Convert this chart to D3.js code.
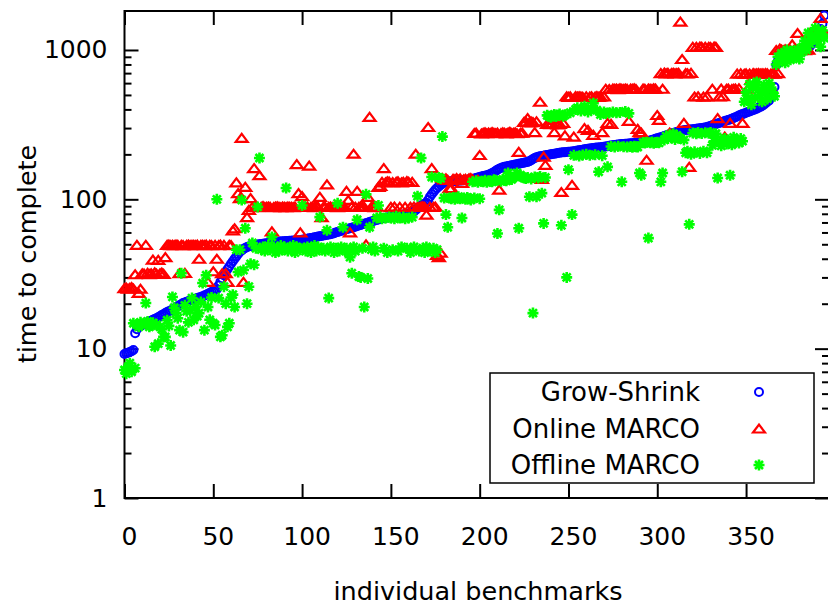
<!DOCTYPE html>
<html>
<head>
<meta charset="utf-8">
<script src="https://cdn.jsdelivr.net/npm/d3@7"></script>
<style>
  body { margin: 0; background: #fff; }
  svg { display: block; font-family: "DejaVu Sans", Verdana, sans-serif; }
</style>
</head>
<body>
<svg width="828" height="607"></svg>
<script>
// one value per benchmark, sorted by the Grow-Shrink time
const growShrink = [
  9.2, 9.3, 9.4, 9.5, 9.6, 9.8, 12.7, 13.5, 14.0, 14.2,
  14.4, 14.6, 14.8, 15.0, 15.2, 15.4, 15.6, 15.8, 16.0, 16.2,
  16.5, 16.8, 17.0, 17.3, 17.6, 17.8, 18.0, 18.3, 18.6, 18.9,
  19.2, 19.5, 19.8, 20.2, 20.4, 20.6, 20.8, 21.0, 21.2, 21.4,
  21.6, 21.8, 22.0, 22.2, 22.4, 22.7, 23.0, 23.3, 23.6, 24.0,
  24.3, 24.6, 25.0, 26.5, 28, 29.5, 31, 32.5, 34, 35.5,
  37, 38.5, 40, 41.5, 43, 44.5, 45.5, 46.5, 47.3, 48,
  48.3, 48.6, 48.9, 49.2, 49.5, 49.8, 50.0, 50.2, 50.4, 50.6,
  50.8, 51.0, 51.2, 51.4, 51.6, 51.8, 52.0, 52.1, 52.2, 52.3,
  52.4, 52.5, 52.6, 52.7, 52.8, 52.9, 53.0, 53.1, 53.2, 53.3,
  53.6, 53.9, 54.2, 54.5, 54.8, 55.1, 55.4, 55.7, 56.0, 56.3,
  56.6, 56.9, 57.2, 57.5, 57.8, 58.1, 58.4, 58.8, 59.3, 60,
  60.5, 61, 61.5, 62, 62.5, 63, 63.5, 64, 64.5, 65,
  65.6, 66.2, 66.8, 67.4, 68, 68.6, 69.2, 69.8, 70.4, 71,
  71.6, 72.2, 72.8, 73.4, 74, 74.6, 75, 75.3, 75.6, 75.9,
  76.2, 76.6, 77, 77.4, 77.8, 78.2, 78.6, 79, 79.5, 80,
  80.5, 81, 81.5, 83, 85, 87, 89, 91, 92.5, 93.5,
  95, 99, 104, 108, 112, 116, 119, 122, 125, 127,
  129, 130, 131, 131.5, 132, 132.3, 132.6, 132.9, 133.2, 133.5,
  133.8, 134, 134.5, 135, 135.5, 136, 137, 138, 139, 140,
  141, 142, 143, 144, 145, 146, 148, 150, 152, 155,
  158, 160, 162, 164, 165, 166, 167, 168, 169, 170,
  171, 172, 173, 174, 175, 176, 177, 178, 180, 183,
  186, 189, 191, 193, 194, 195, 196, 197, 198, 199,
  200, 201, 202, 203, 204, 205, 206, 206.5, 207, 207.5,
  208, 208.5, 209, 210, 211, 212, 213, 214, 215, 216,
  217, 218, 219, 220, 221, 221.5, 222, 222.5, 223, 224,
  225, 226, 227, 228, 229, 230, 231, 232, 233, 234,
  234.5, 235, 235.5, 236, 236.5, 237, 237.5, 238, 238.5, 239,
  240, 241, 242, 243, 244, 246, 248, 250, 252, 254,
  256, 258, 260, 262, 265, 268, 271, 273, 275, 278,
  280, 282, 284, 286, 288, 290, 291, 292, 293, 294,
  295, 296, 297, 298, 299, 300, 301, 303, 305, 307,
  310, 313, 316, 319, 322, 325, 328, 331, 334, 337,
  340, 343, 347, 351, 355, 359, 364, 368, 372, 376,
  380, 384, 388, 392, 396, 400, 405, 410, 416, 422,
  430, 440, 450, 460, 480, 490, 565, 795, 850, 870,
  890, 900, 910, 920, 930, 940, 950, 960, 970, 980,
  985, 990, 995, 1000, 1010, 1030, 1060, 1100, 1150, 1200,
  1250, 1310, 1380, 1500, 1700
];

const onlineMarco = [
  25.4, 25.6, 25.2, 25.5, 25.8, 25.3, 31.5, 49.5, 23.6, 25.2,
  32, 31.8, 49.5, 32.2, 31.6, 32, 39.5, 32.4, 31.8, 39.3,
  32, 32.3, 31.7, 41, 49.5, 49.8, 49.3, 49.6, 49.4, 49.7,
  49.5, 32, 49.6, 49.3, 32.2, 49.5, 49.8, 49.4, 49.6, 49.5,
  49.3, 49.7, 40, 49.5, 49.6, 49.4, 49.8, 28, 49.5, 49.3,
  33, 49.6, 40, 49.4, 49.7, 32, 49.5, 32, 28, 49.6,
  49.3, 62, 64, 130, 110, 102, 258, 28, 121, 76,
  85, 102, 89, 162, 89.5, 88.5, 145, 89, 90, 88.8,
  89.2, 89.5, 89, 61, 88.6, 89.3, 89.8, 89, 88.5, 89.4,
  89, 88.7, 89.5, 89.2, 89, 88.6, 89.4, 172, 110, 60,
  105, 89.3, 88.8, 89.5, 168, 89, 89.2, 88.7, 89.6, 89.1,
  104, 76, 89, 88.9, 126, 89.2, 89.5, 88.8, 89, 89.3,
  88.6, 89.4, 89, 89.2, 88.8, 114, 99, 60, 89.5, 202,
  89, 114, 89.2, 88.9, 89.4, 89, 50, 104, 357, 89.2,
  89, 88.7, 89.5, 121, 123, 131, 162, 130, 132, 131.5,
  89, 130.5, 89.4, 131, 132, 89, 130, 131.2, 89.2, 132.5,
  131, 89, 130.8, 89.5, 202, 89, 88.8, 89.3, 89.6, 89,
  79, 305, 89.2, 162, 89, 89.5, 42.5, 41, 44, 139,
  136, 138, 135, 119, 119, 137, 136, 139, 135, 138,
  129, 136, 137, 135, 138, 139, 136, 278, 280, 135,
  198, 276, 279, 281, 277, 280, 278, 282, 279, 277,
  280, 116, 278, 281, 279, 276, 280, 283, 278, 279,
  281, 277, 208, 279, 280, 330, 332, 350, 328, 331,
  329, 282, 333, 139, 450, 137, 193, 170, 320, 322,
  319, 323, 282, 321, 318, 320, 112, 325, 268, 490,
  486, 489, 125, 263, 491, 487, 490, 488, 485, 300,
  489, 292, 487, 490, 270, 488, 491, 486, 489, 282,
  488, 550, 325, 548, 320, 552, 549, 551, 547, 553,
  550, 548, 552, 549, 335, 551, 550, 553, 548, 296,
  282, 280, 551, 549, 184, 552, 550, 548, 553, 551,
  367, 340, 700, 550, 705, 698, 702, 280, 699, 704,
  697, 701, 703, 1550, 870, 325, 700, 698, 165, 702,
  1050, 488, 1048, 490, 1052, 1049, 487, 1051, 489, 1050,
  1047, 550, 1052, 1049, 350, 488, 552, 490, 263, 549,
  551, 325, 548, 550, 552, 695, 553, 697, 325, 693,
  698, 550, 696, 630, 699, 694, 697, 700, 696, 698,
  695, 699, 697, 570, 696, 698, 694, 1000, 700, 1020,
  1005, 995, 1010, 1000, 1008, 998, 1090, 1002, 1006, 1300,
  1010, 1000, 1004, 998, 1012, 1005, 1300, 1250, 1230, 1280,
  1350, 1260, 1640, 1300, 1320
];

const offlineMarco = [
  7.2, 6.8, 7.5, 8.0, 7.0, 14.8, 7.4, 14.5, 14.0, 15.0,
  14.6, 14.8, 20.2, 15.2, 14.0, 14.3, 14.9, 10.3, 14.5, 10.8,
  14.0, 13.5, 12.0, 12.0, 15.5, 14.2, 10.5, 22.2, 18.8, 17.3,
  16.0, 13.3, 32.0, 12.9, 19.5, 17.8, 15.0, 18.0, 21.8, 15.6,
  19.0, 16.5, 17.3, 20.5, 27.5, 13.3, 31.0, 19.0, 15.6, 22.0,
  14.8, 14.4, 100, 21.8, 12.0, 12.3, 26.0, 20.0, 14.0, 14.8,
  22.0, 23.0, 19.0, 46.0, 32.6, 46.0, 99, 33.6, 64, 20.0,
  26.0, 37.0, 51.0, 36.5, 47.0, 89, 189, 46, 48, 45,
  47, 49, 46, 56, 48, 44, 47, 45, 49, 46,
  48, 119, 45, 47, 46, 49, 44, 48, 47, 46,
  91, 47, 45, 48, 46, 44, 47, 49, 45, 48,
  76, 46, 47, 45, 62, 21.8, 48, 46, 44, 47,
  94, 45, 48, 65, 46, 47, 44, 41, 32, 48,
  45, 73, 30.4, 30, 47, 19, 108, 29.5, 65, 46,
  48, 45, 75, 91, 76, 74, 47, 75, 44, 76,
  75, 46, 74, 77, 45, 75, 48, 76, 74, 47,
  75, 44, 76, 48, 46, 105, 45, 189, 47, 44,
  48, 46, 45, 141, 47, 44, 46, 140, 138, 263,
  102, 79, 65, 102, 101, 103, 100, 102, 104, 101,
  75, 102, 100, 103, 101, 99, 131, 102, 133, 130,
  101, 132, 131, 134, 130, 133, 132, 131, 135, 134,
  59, 85, 132, 136, 134, 133, 150, 137, 136, 140,
  142, 150, 64, 145, 141, 139, 138, 140, 104, 137,
  17.3, 141, 104, 139, 142, 110, 69, 140, 365, 360,
  355, 362, 370, 358, 365, 372, 67, 360, 368, 30,
  158, 380, 79, 197, 400, 410, 195, 390, 198, 420,
  200, 385, 197, 405, 440, 199, 395, 153, 370, 196,
  385, 375, 165, 378, 226, 385, 224, 380, 227, 382,
  131, 225, 388, 224, 376, 226, 223, 227, 225, 224,
  150, 145, 240, 238, 241, 55, 239, 242, 237, 240,
  241, 239, 131, 150, 250, 265, 255, 270, 258, 275,
  252, 268, 260, 255, 153, 250, 205, 210, 68, 200,
  278, 208, 275, 280, 203, 276, 210, 279, 205, 277,
  280, 230, 245, 275, 139, 240, 228, 250, 255, 235,
  248, 145, 232, 260, 240, 250, 238, 255, 245, 450,
  520, 470, 590, 430, 560, 480, 610, 540, 500, 450,
  580, 530, 470, 600, 560, 520, 490, 800, 900, 850,
  950, 880, 820, 1000, 920, 860, 980, 900, 940, 1010,
  870, 960, 1050, 1150, 1000, 1300, 1100, 1250, 1200, 1400,
  1150, 1300, 1050, 1350, 1200
];

const seriesNames = ["Grow-Shrink", "Online MARCO", "Offline MARCO"];
const seriesColors = ["#0000ff", "#ff0000", "#00ff00"];
const xTicks = [0, 50, 100, 150, 200, 250, 300, 350];
const yTicks = [1, 10, 100, 1000];

const chart = {

  init: function () {
    const svg = d3.select("svg");
    const margin = { left: 124.5, right: 829, top: 11, bottom: 498 };

    const x = d3.scaleLinear().domain([0, 396.7]).range([margin.left, margin.right]);
    const y = d3.scaleLog().domain([1, 1824]).range([margin.bottom, margin.top]);

    this.internal = { svg, margin, x, y };
    this.drawAxes();
    this.drawPoints();
    this.drawLegend();
  },

  // gnuplot style point shapes
  shape: function (i) {
    if (i === 0) return d3.symbol(d3.symbolCircle, Math.PI * 16)();
    if (i === 1) return "M-6,4L6,4L0,-4Z";
    return "M-5.5,0H5.5M0,-5.5V5.5M-4,-4L4,4M-4,4L4,-4";
  },

  strokeWidth: function (i) {
    return i === 0 ? 2 : i === 1 ? 2.2 : 2.6;
  },

  drawAxes: function () {
    const { svg, margin, x, y } = this.internal;

    const minor = [];
    [1, 10, 100, 1000].forEach(function (d) {
      for (let m = 2; m < 10; m++) if (d * m <= y.domain()[1]) minor.push(d * m);
    });

    svg.append("g")
      .attr("transform", `translate(${margin.left},0)`)
      .call(d3.axisLeft(y).tickValues(yTicks).tickFormat(d3.format("d")).tickSize(-14).tickPadding(17));
    svg.append("g")
      .attr("transform", `translate(${margin.left},0)`)
      .call(d3.axisLeft(y).tickValues(minor).tickFormat("").tickSize(-7));
    svg.append("g")
      .attr("transform", `translate(${margin.right},0)`)
      .call(d3.axisRight(y).tickValues(yTicks).tickFormat("").tickSize(-14));
    svg.append("g")
      .attr("transform", `translate(${margin.right},0)`)
      .call(d3.axisRight(y).tickValues(minor).tickFormat("").tickSize(-7));

    const bottom = svg.append("g")
      .attr("transform", `translate(0,${margin.bottom})`)
      .call(d3.axisBottom(x).tickValues(xTicks).tickSize(-14).tickPadding(29));
    svg.append("g")
      .attr("transform", `translate(0,${margin.top})`)
      .call(d3.axisTop(x).tickValues(xTicks).tickFormat("").tickSize(-14));

    bottom.selectAll("text").attr("dx", 4.5);

    svg.selectAll(".domain").remove();
    svg.selectAll(".tick line").attr("stroke", "#000").attr("stroke-width", 2);
    svg.selectAll(".tick text")
      .attr("fill", "#000")
      .style("font-size", "25px")
      .style("font-family", "'DejaVu Sans', Verdana, sans-serif");

    svg.append("rect")
      .attr("x", margin.left)
      .attr("y", margin.top)
      .attr("width", margin.right - margin.left)
      .attr("height", margin.bottom - margin.top)
      .attr("fill", "none")
      .attr("stroke", "#000")
      .attr("stroke-width", 2);

    svg.append("text")
      .attr("transform", "translate(36,254) rotate(-90)")
      .attr("text-anchor", "middle")
      .style("font-size", "25.5px")
      .text("time to complete");

    svg.append("text")
      .attr("x", 478)
      .attr("y", 600)
      .attr("text-anchor", "middle")
      .style("font-size", "25.5px")
      .text("individual benchmarks");
  },

  drawPoints: function () {
    const self = this;
    const { svg, x, y } = this.internal;

    [growShrink, onlineMarco, offlineMarco].forEach(function (values, i) {
      svg.append("g")
        .attr("class", "series-" + i)
        .selectAll("path")
        .data(values)
        .enter().append("path")
        .attr("transform", (d, j) => `translate(${x(j)},${y(d)})`)
        .attr("d", self.shape(i))
        .attr("fill", "none")
        .attr("stroke", seriesColors[i])
        .attr("stroke-width", self.strokeWidth(i));
    });
  },

  drawLegend: function () {
    const self = this;
    const { svg } = this.internal;

    svg.append("rect")
      .attr("x", 490)
      .attr("y", 373)
      .attr("width", 324)
      .attr("height", 110)
      .attr("fill", "none")
      .attr("stroke", "#000")
      .attr("stroke-width", 1.5);

    const item = svg.append("g")
      .selectAll("g")
      .data(seriesNames)
      .enter().append("g")
      .attr("transform", (d, i) => `translate(0,${392 + i * 36.5})`);

    item.append("text")
      .attr("x", 700)
      .attr("dy", "0.36em")
      .attr("text-anchor", "end")
      .style("font-size", "26px")
      .text(d => d);

    item.append("path")
      .attr("transform", "translate(759,0)")
      .attr("d", (d, i) => self.shape(i))
      .attr("fill", "none")
      .attr("stroke", (d, i) => seriesColors[i])
      .attr("stroke-width", (d, i) => self.strokeWidth(i));
  },

  run: function () {
    this.init();
  }
};

chart.run();
</script>
</body>
</html>
